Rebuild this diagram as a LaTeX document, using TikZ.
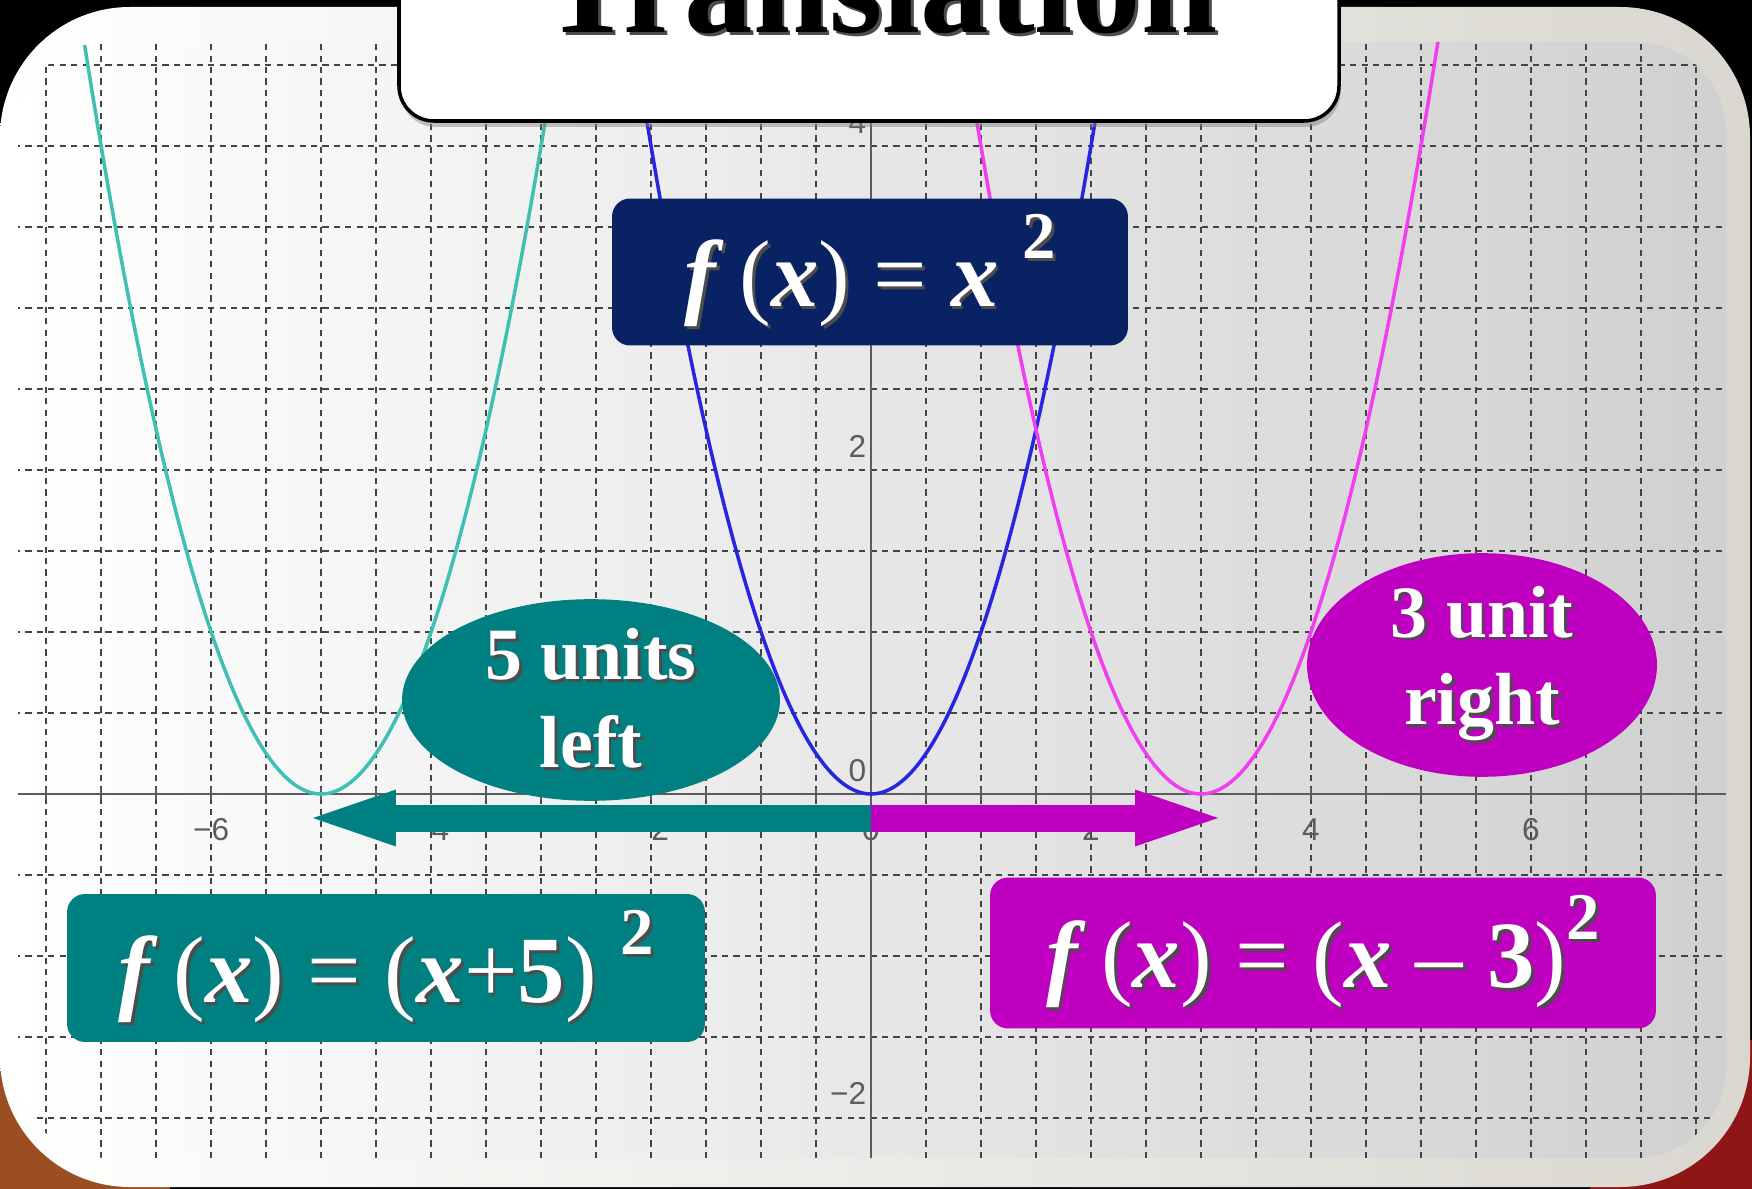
\documentclass[tikz,border=0pt]{standalone}
\usepackage{fontspec}
\setmainfont{Liberation Serif}
\setsansfont{Liberation Sans}
\usepackage{tikz}
\usetikzlibrary{arrows.meta,positioning,shapes.geometric,shadows}
\definecolor{TNavy}{HTML}{082263}
\definecolor{TTeal}{HTML}{008080}
\definecolor{TMagenta}{HTML}{C000C0}
\definecolor{TCyanLine}{HTML}{3FC0B5}
\definecolor{TBlueLine}{HTML}{2626E0}
\definecolor{TPinkLine}{HTML}{F03EF0}
\definecolor{TGrid}{HTML}{444444}
\definecolor{TAxis}{HTML}{5C5C5C}
\definecolor{TFrameR}{HTML}{D9D7CF}
\definecolor{TPanelR}{HTML}{D0D0D0}
\definecolor{TCarpetL}{HTML}{9A4E22}
\definecolor{TCarpetR}{HTML}{8E1616}
\newcommand{\bivar}[1]{\textbf{\textit{#1}}}
\newcommand{\sqtwo}{\raisebox{0.5em}{\fontsize{38}{38}\selectfont\bfseries 2}}
\newcommand{\dropped}[1]{\leavevmode\rlap{\kern1.6pt\raisebox{-1.6pt}{\textcolor{black!70}{#1}}}#1}

\begin{document}
\begin{tikzpicture}[
  x=0.02cm,y=-0.02cm,
  formbox/.style={rounded corners=0.36cm,text=white,inner sep=0pt,
    font=\fontsize{54}{60}\selectfont},
  shiftoval/.style={ellipse,inner sep=0pt,text=white,align=center,
    font=\fontsize{42}{50}\selectfont\bfseries},
  gridline/.style={TGrid,line width=0.9pt,dash pattern=on 3.5pt off 3pt},
  axisline/.style={TAxis,line width=1.4pt},
  ticklabel/.style={TAxis,inner sep=0pt,font=\sffamily\fontsize{18}{18}\selectfont},
  parab/.style={line width=2pt,smooth,samples=121},
  shiftarrow/.style={line width=0.54cm,
    -{Triangle[length=1.66cm,width=1.14cm,line width=0pt]}}
]
  \useasboundingbox (0,0) rectangle (1752,1189);
  \fill[black] (0,0) rectangle (1752,1189);
  \fill[TCarpetL] (0,1040) rectangle (170,1189);
  \fill[TCarpetR] (1590,1040) rectangle (1752,1189);

  % slide frame and plot panel
  \shade[left color=white,right color=TFrameR,rounded corners=2.6cm]
    (0,7) rectangle (1750,1187);
  \shade[left color=white,right color=TPanelR,rounded corners=1.8cm]
    (18,42) rectangle (1726,1158);

  \begin{scope}
    \clip[rounded corners=1.8cm] (18,42) rectangle (1726,1158);
    \begin{scope}[shift={(871,794)},x=2.2cm,y=3.24cm]
      \foreach \gx in {-7.5,-7,...,7.5}
        \draw[gridline] (\gx,-2.6) -- (\gx,5);
      \foreach \gy in {-2,-1.5,...,4.5}
        \draw[gridline] (-8,\gy) -- (8,\gy);
      \draw[axisline] (-8,0) -- (8,0);
      \draw[axisline] (0,-2.6) -- (0,5);
      \foreach \gx in {-7.5,-7,...,7.5}
        \draw[axisline,line width=1pt] (\gx,-0.035) -- (\gx,0.035);
      \foreach \lx/\lt [count=\i] in {-6/−6,-4/−4,-2/−2,0/0,2/2,4/4,6/6}
        \node[ticklabel,anchor=base] (xlab\i) at (\lx,-0.29) {\lt};
      \foreach \ly/\lt [count=\i] in {-2/−2,0/0,2/2,4/4}
        \node[ticklabel,anchor=base east] (ylab\i) at (-0.04,\ly+0.08) {\lt};
      \draw[parab,TCyanLine] plot[domain=-7.6:-2.4] (\x,{(\x+5)*(\x+5)});
      \draw[parab,TBlueLine] plot[domain=-2.6:2.6] (\x,{\x*\x});
      \draw[parab,TPinkLine] plot[domain=0.4:5.6] (\x,{(\x-3)*(\x-3)});
    \end{scope}
  \end{scope}

  % translation arrows
  \coordinate (zero) at (871,818);
  \coordinate (lefttip) at (313,818);
  \coordinate (righttip) at (1218,818);
  \draw[shiftarrow,TTeal] (zero) -- (lefttip);
  \draw[shiftarrow,TMagenta] (zero) -- (righttip);

  \node[formbox,fill=TNavy,minimum width=10.32cm,minimum height=2.94cm]
    (basic) at (870,272) {\dropped{\bivar{f}\,(\bivar{x}) = \bivar{x} \sqtwo}};
  \node[shiftoval,fill=TTeal,minimum width=7.56cm,minimum height=3.5cm]
    (leftoval) at (591,700) {\dropped{5 units}\\\dropped{left}};
  \node[shiftoval,fill=TMagenta,minimum width=7cm,minimum height=4.2cm]
    (rightoval) at (1482,665) {\dropped{3 unit}\\\dropped{right}};
  \node[formbox,fill=TTeal,minimum width=12.76cm,minimum height=2.96cm]
    (leftform) at (386,968)
    {\dropped{\bivar{f}\,(\bivar{x}) = (\bivar{x}+\textbf{5}) \sqtwo}};
  \node[formbox,fill=TMagenta,minimum width=13.32cm,minimum height=3.02cm]
    (rightform) at (1323,953)
    {\dropped{\bivar{f}\,(\bivar{x}) = (\bivar{x} – \textbf{3})\sqtwo}};

  % title card, cut by the top edge
  \draw[line width=2pt,fill=white,rounded corners=0.7cm,
    drop shadow={shadow xshift=0.03cm,shadow yshift=-0.12cm,opacity=0.45}]
    (399,-60) rectangle (1339,121);
  \node[anchor=base,font=\fontsize{78}{80}\selectfont\bfseries]
    (title) at (880,33) {\dropped{Translation}};
\end{tikzpicture}
\end{document}
